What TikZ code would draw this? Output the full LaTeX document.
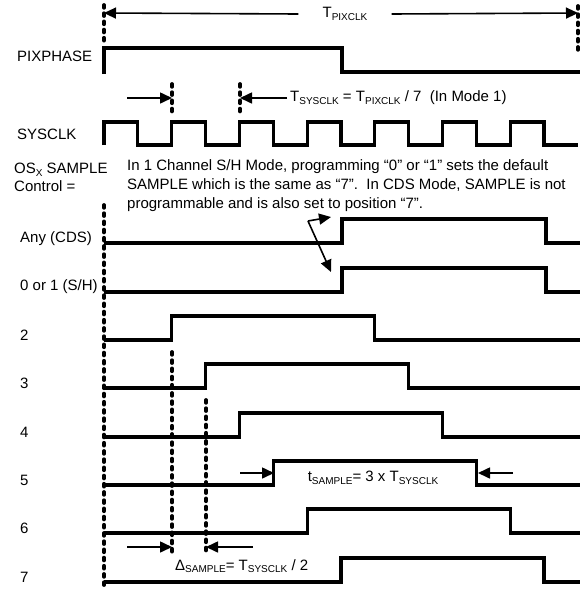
\documentclass[tikz,border=0pt]{standalone}
\usepackage{fontspec}
\setmainfont{Liberation Sans}
\usetikzlibrary{arrows.meta,positioning}
\newcommand{\clkperiod}{67.7}
\tikzset{
  wave/.style={line width=3.2pt,line join=miter},
  guide/.style={line width=3.8pt,line cap=round,dash pattern=on 2.8pt off 5.4pt},
  dim arrow/.style={line width=1.6pt,-{Triangle[length=12pt,width=11pt]}},
  sig label/.style={font=\fontsize{15}{18}\selectfont,anchor=west,inner sep=0pt},
  note/.style={font=\fontsize{15}{19.3}\selectfont,inner sep=0pt}
}
\newcommand{\Sub}[1]{\raisebox{-2.7pt}{\fontsize{10}{11}\selectfont #1}}
% one sample pulse: low level, rising edge, falling edge
\newcommand{\SamplePulse}[3]{\draw[wave] (104,#1) -| (#2,#1-24) -| (#3,#1) -- (580,#1);}

\begin{document}
\begin{tikzpicture}[x=1pt,y=-1pt,line join=round]
  \useasboundingbox (0,0) rectangle (585,590);

  % row labels
  \node[sig label] (lpix) at (17,56)  {PIXPHASE};
  \node[sig label] (lsys) at (17,134) {SYSCLK};
  \node[sig label,align=left,anchor=north west] (lctl) at (14,163)
    {OS\Sub{X} SAMPLE\\Control =};
  \node[sig label] (lcds) at (20,239) {Any (CDS)};
  \node[sig label] (lsh)  at (20,287) {0 or 1 (S/H)};
  \foreach \n/\ly in {2/340,3/388,4/437,5/485,6/533,7/582}
    \node[sig label] (l\n) at (20,\ly-5) {\n};

  % period of the pixel clock
  \coordinate (pixL) at (104,13);
  \coordinate (pixR) at (578,13);
  \node[note,inner xsep=24pt] (tpix) at (345,14) {T\Sub{PIXCLK}};
  \draw[dim arrow] (tpix.west) -- (pixL);
  \draw[dim arrow] (tpix.east) -- (pixR);
  \draw[guide] (104,5) -- (104,43);
  \draw[guide] (578,6) -- (578,52);

  % PIXPHASE and SYSCLK
  \draw[wave] (104,74) -- (104,48) -| (342,72) -- (580,72);
  \draw[wave] (104,145) \foreach \k in {1,...,7} {
      -- ++(0,-23) -- ++(\clkperiod/2,0) -- ++(0,23) -- ++(\clkperiod/2,0)};

  % one SYSCLK period
  \coordinate (sysA) at (172,98);
  \coordinate (sysB) at (240,98);
  \coordinate (sysS) at (127,98);
  \draw[guide] (172,84) -- (172,113);
  \draw[guide] (240,84) -- (240,113);
  \node[note,anchor=west,inner xsep=3pt] (tsys) at (287,98)
    {T\Sub{SYSCLK} = T\Sub{PIXCLK} / 7\ \ (In Mode 1)};
  \draw[dim arrow] (sysS) -- (sysA);
  \draw[dim arrow] (tsys.west) -- (sysB);

  % note on the default setting
  \node[note,align=left,anchor=north west] (dflt) at (127,159)
    {In 1 Channel S/H Mode, programming “0” or “1” sets the default\\
     SAMPLE which is the same as “7”.\ \ In CDS Mode, SAMPLE is not\\
     programmable and is also set to position “7”.};
  \coordinate (fork) at (308,221);
  \coordinate (tipCDS) at (331,217);
  \coordinate (tipSH)  at (331,272);
  \draw[dim arrow] (fork) -- (tipCDS);
  \draw[dim arrow] (fork) -- (tipSH);

  % sample pulses
  \draw[guide] (104,205) -- (104,588);
  \SamplePulse{243}{342}{546}
  \SamplePulse{292}{342}{546}
  \foreach \n/\ly in {2/340,3/388,4/437,5/485,6/533,7/582}{
    \SamplePulse{\ly}{104+\n*\clkperiod/2}{104+\n*\clkperiod/2+3*\clkperiod}
  }

  % sample step
  \draw[guide] (172,352) -- (172,553);
  \draw[guide] (206,400) -- (206,553);
  \coordinate (dA) at (172,547);
  \coordinate (dB) at (206,547);
  \coordinate (dS) at (127,547);
  \coordinate (dE) at (253,547);
  \draw[dim arrow] (dS) -- (dA);
  \draw[dim arrow] (dE) -- (dB);
  \node[note,anchor=west] (tdelta) at (175,566) {Δ\Sub{SAMPLE}= T\Sub{SYSCLK} / 2};

  % sample width
  \coordinate (wA) at (274,473);
  \coordinate (wB) at (478,473);
  \coordinate (wS) at (240,473);
  \coordinate (wE) at (513,473);
  \draw[dim arrow] (wS) -- (wA);
  \draw[dim arrow] (wE) -- (wB);
  \node[note] (twidth) at (373,478) {t\Sub{SAMPLE}= 3 x T\Sub{SYSCLK}};
\end{tikzpicture}
\end{document}
